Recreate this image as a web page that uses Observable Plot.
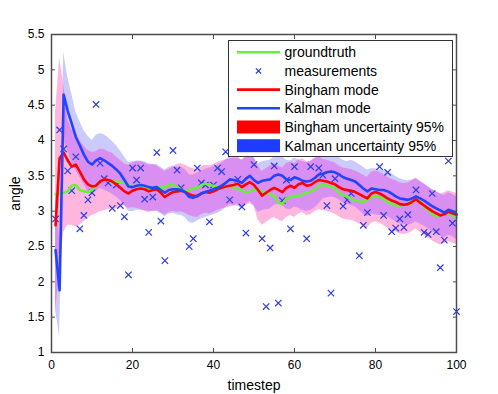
<!DOCTYPE html>
<html><head><meta charset="utf-8">
<script src="https://cdn.jsdelivr.net/npm/d3@7"></script>
<script src="https://cdn.jsdelivr.net/npm/@observablehq/plot@0.6"></script>
<style>
html,body{margin:0;padding:0;background:#fff;}
#wrap{position:relative;width:498px;height:394px;font-family:"Liberation Sans",Arial,sans-serif;}
#legend{position:absolute;left:227.5px;top:39.5px;}
</style></head>
<body><div id="wrap"></div>
<script>
const xTicks = [0, 20, 40, 60, 80, 100];
const yTicks = [1, 1.5, 2, 2.5, 3, 3.5, 4, 4.5, 5, 5.5];
const timestep = d3.range(1, 101);

const groundtruth = [3.24,3.25,3.26,3.28,3.36,3.37,3.30,3.28,3.27,3.30,
3.36,3.42,3.45,3.43,3.42,3.42,3.41,3.40,3.37,3.35,
3.36,3.34,3.33,3.33,3.34,3.35,3.33,3.34,3.37,3.38,
3.34,3.30,3.28,3.30,3.32,3.33,3.37,3.39,3.37,3.36,
3.35,3.36,3.34,3.35,3.33,3.32,3.30,3.26,3.28,3.31,
3.30,3.28,3.26,3.24,3.21,3.12,3.10,3.18,3.20,3.22,
3.21,3.24,3.26,3.28,3.30,3.36,3.37,3.36,3.35,3.32,
3.26,3.22,3.21,3.17,3.15,3.14,3.13,3.16,3.20,3.22,
3.20,3.17,3.13,3.10,3.08,3.08,3.09,3.09,3.12,3.17,
3.13,3.06,3.02,2.96,2.93,2.95,2.98,2.97,2.94,2.91];

const binghamMode = [2.80,3.75,3.83,3.72,3.63,3.66,3.56,3.45,3.38,3.35,
3.36,3.42,3.45,3.44,3.42,3.38,3.33,3.28,3.25,3.29,
3.31,3.32,3.31,3.28,3.30,3.31,3.26,3.20,3.24,3.27,
3.28,3.29,3.27,3.24,3.22,3.21,3.25,3.27,3.26,3.28,
3.31,3.33,3.35,3.36,3.37,3.39,3.34,3.38,3.41,3.37,
3.30,3.22,3.26,3.30,3.33,3.30,3.27,3.33,3.36,3.33,
3.38,3.40,3.36,3.37,3.41,3.44,3.43,3.42,3.40,3.38,
3.34,3.31,3.30,3.29,3.27,3.24,3.21,3.18,3.25,3.27,
3.25,3.22,3.18,3.15,3.13,3.10,3.09,3.10,3.13,3.17,
3.12,3.08,3.04,3.00,2.97,2.94,2.96,2.99,2.97,2.95];

const kalmanMode = [2.45,1.88,4.65,4.42,4.24,4.05,3.93,3.80,3.70,3.66,
3.72,3.75,3.72,3.68,3.64,3.59,3.53,3.44,3.35,3.34,
3.36,3.37,3.36,3.34,3.33,3.34,3.30,3.26,3.30,3.31,
3.31,3.30,3.27,3.20,3.19,3.22,3.25,3.27,3.29,3.31,
3.33,3.36,3.40,3.45,3.44,3.43,3.40,3.46,3.50,3.44,
3.40,3.43,3.44,3.45,3.50,3.52,3.50,3.45,3.44,3.48,
3.46,3.43,3.42,3.43,3.47,3.52,3.53,3.55,3.56,3.55,
3.52,3.48,3.46,3.44,3.42,3.37,3.32,3.28,3.32,3.31,
3.30,3.30,3.28,3.25,3.21,3.18,3.17,3.16,3.18,3.21,
3.18,3.15,3.11,3.07,3.04,3.01,2.98,3.02,3.00,2.96];

const binghamLower = [1.55,2.10,2.70,2.80,2.80,2.78,2.80,2.85,2.90,2.94,
2.96,2.99,3.01,3.02,3.03,3.03,3.06,3.08,3.04,3.05,
3.04,3.02,3.00,2.98,3.00,3.01,2.98,2.95,2.98,3.00,
2.98,2.99,2.97,2.94,2.92,2.91,2.95,2.97,2.96,2.98,
3.01,3.03,3.05,3.06,3.07,3.09,3.04,3.08,3.11,3.07,
2.88,2.80,2.84,2.88,2.91,2.88,2.85,2.91,2.94,2.91,
2.96,2.98,2.94,2.95,2.99,3.02,3.01,3.00,2.98,2.96,
2.92,2.89,2.88,2.87,2.85,2.82,2.79,2.76,2.83,2.85,
2.83,2.80,2.76,2.73,2.71,2.68,2.67,2.68,2.71,2.75,
2.70,2.66,2.62,2.58,2.55,2.52,2.54,2.57,2.55,2.53];

const binghamUpper = [4.40,5.17,4.80,4.30,4.15,4.12,4.00,3.92,3.86,3.83,
3.84,3.88,3.87,3.84,3.82,3.77,3.72,3.67,3.65,3.68,
3.70,3.70,3.68,3.65,3.66,3.64,3.60,3.56,3.59,3.62,
3.66,3.67,3.65,3.62,3.60,3.59,3.63,3.65,3.64,3.66,
3.69,3.71,3.73,3.74,3.75,3.77,3.72,3.76,3.79,3.75,
3.64,3.56,3.60,3.64,3.67,3.64,3.61,3.67,3.70,3.67,
3.72,3.74,3.70,3.71,3.75,3.78,3.73,3.72,3.70,3.68,
3.64,3.61,3.60,3.59,3.57,3.54,3.51,3.48,3.55,3.57,
3.55,3.52,3.48,3.45,3.43,3.40,3.39,3.40,3.43,3.47,
3.42,3.38,3.34,3.30,3.27,3.24,3.26,3.29,3.27,3.25];

const kalmanLower = [1.60,1.22,4.00,3.85,3.70,3.58,3.48,3.38,3.28,3.24,
3.28,3.32,3.30,3.27,3.24,3.20,3.15,3.08,3.00,2.99,
3.01,3.02,3.01,3.00,2.99,3.00,2.96,2.92,2.96,2.97,
2.95,2.94,2.91,2.84,2.83,2.86,2.89,2.91,2.93,2.95,
2.97,3.00,3.04,3.09,3.08,3.07,3.04,3.10,3.14,3.08,
2.98,3.01,3.02,3.03,3.08,3.10,3.08,3.03,3.02,3.06,
3.04,3.01,3.00,3.01,3.05,3.10,3.17,3.19,3.20,3.19,
3.16,3.12,3.10,3.08,3.06,3.01,2.96,2.92,2.96,2.95,
2.94,2.94,2.92,2.89,2.85,2.82,2.81,2.80,2.82,2.85,
2.82,2.79,2.75,2.71,2.68,2.65,2.62,2.66,2.64,2.60];

const kalmanUpper = [3.30,2.60,5.25,4.90,4.66,4.40,4.27,4.14,4.06,4.00,
4.07,4.10,4.08,4.04,3.99,3.93,3.85,3.77,3.69,3.70,
3.71,3.71,3.70,3.67,3.66,3.66,3.62,3.58,3.62,3.64,
3.63,3.62,3.59,3.52,3.51,3.54,3.57,3.59,3.61,3.63,
3.65,3.68,3.72,3.77,3.76,3.75,3.72,3.78,3.82,3.76,
3.67,3.70,3.71,3.72,3.77,3.79,3.77,3.72,3.71,3.75,
3.73,3.70,3.69,3.70,3.74,3.79,3.77,3.79,3.80,3.79,
3.76,3.72,3.70,3.72,3.70,3.66,3.62,3.58,3.60,3.60,
3.59,3.58,3.56,3.53,3.49,3.46,3.44,3.43,3.44,3.46,
3.42,3.39,3.35,3.31,3.28,3.25,3.22,3.26,3.24,3.20];

const measT = [1,2,3,4,5,6,7,8,9,10,11,12,13,14,15,16,17,18,19,20,
21,22,23,24,25,26,27,28,30,31,32,34,35,36,37,38,39,40,41,42,
43,44,46,47,48,50,52,53,54,55,56,57,58,59,60,63,64,66,67,68,
69,70,72,73,74,76,77,78,81,82,83,84,85,86,87,88,90,92,93,94,
95,96,97,98,99,100];
const measV = [2.89,4.15,3.88,3.57,3.29,3.77,2.75,2.94,3.16,3.26,4.51,3.68,3.46,3.40,3.04,3.37,3.08,2.92,2.10,3.61,
3.44,3.61,3.17,2.70,3.20,3.83,2.86,2.30,3.86,3.58,3.33,2.50,2.61,3.61,3.40,3.37,2.85,3.37,3.61,3.56,
3.84,3.16,3.45,3.06,2.69,3.66,2.61,1.65,2.48,3.64,1.70,3.15,3.44,2.75,3.63,2.61,3.63,3.61,3.51,3.08,
1.84,3.46,3.07,3.16,3.25,2.37,2.80,2.98,3.63,2.94,3.55,2.71,2.76,2.89,2.77,2.95,3.30,2.70,2.67,3.25,
2.71,2.20,2.59,3.71,2.83,1.58];

const rows = timestep.map((t, i) => {
  const oL = Math.max(binghamLower[i], kalmanLower[i]);
  const oH = Math.max(oL, Math.min(binghamUpper[i], kalmanUpper[i]));
  return {t, g: groundtruth[i], b: binghamMode[i], k: kalmanMode[i],
    bL: binghamLower[i], bU: binghamUpper[i], kL: kalmanLower[i], kU: kalmanUpper[i], oL, oH};
});
const meas = measT.map((t, i) => ({t, v: measV[i]}));

const C = {green:"#66f03a", red:"#ff0000", blue:"#2443ff", meas:"#2a3bea",
  pink:"#ffb6de", lav:"#cacafb", purple:"#d98ff2", axis:"#4d4d4d"};

const chart = Plot.plot({
  width: 498, height: 394,
  marginLeft: 51, marginRight: 42, marginTop: 34, marginBottom: 42,
  style: {fontFamily: "'Liberation Sans', Arial, sans-serif", fontSize: "12px", background: "#fff", color: "#000"},
  x: {domain: [0, 100]},
  y: {domain: [1, 5.5]},
  marks: [
    Plot.areaY(rows, {x: "t", y1: "kL", y2: "kU", fill: C.lav}),
    Plot.areaY(rows, {x: "t", y1: "bL", y2: "bU", fill: C.pink}),
    Plot.areaY(rows, {x: "t", y1: "oL", y2: "oH", fill: C.purple}),
    Plot.dot(meas, {x: "t", y: "v", symbol: "times", r: 3, stroke: C.meas, strokeWidth: 1.2}),
    Plot.line(rows, {x: "t", y: "g", stroke: C.green, strokeWidth: 2.6}),
    Plot.line(rows, {x: "t", y: "b", stroke: C.red, strokeWidth: 2.6}),
    Plot.line(rows, {x: "t", y: "k", stroke: C.blue, strokeWidth: 2.6}),
    Plot.frame({stroke: C.axis, strokeWidth: 1.5}),
    Plot.axisX(xTicks, {anchor: "bottom", tickSize: -4, tickPadding: 12, stroke: C.axis, fontSize: 12, label: null}),
    Plot.axisX(xTicks, {anchor: "top", tickSize: -4, tickFormat: () => "", stroke: C.axis, label: null}),
    Plot.axisY(yTicks, {anchor: "left", tickSize: -4, tickPadding: 11, stroke: C.axis, fontSize: 12, tickFormat: d => String(d), label: null}),
    Plot.axisY(yTicks, {anchor: "right", tickSize: -4, tickFormat: () => "", stroke: C.axis, label: null}),
    Plot.axisX([], {anchor: "bottom", label: "timestep", labelAnchor: "center", labelOffset: 37, labelArrow: "none", fontSize: 14, tickSize: 0}),
    Plot.axisY([], {anchor: "left", label: "angle", labelAnchor: "center", labelOffset: 41, labelArrow: "none", fontSize: 14, tickSize: 0})
  ]
});
document.getElementById("wrap").appendChild(chart);

// legend
const entries = [
  {label: "groundtruth", kind: "line", color: C.green},
  {label: "measurements", kind: "cross", color: C.meas},
  {label: "Bingham mode", kind: "line", color: C.red},
  {label: "Kalman mode", kind: "line", color: C.blue},
  {label: "Bingham uncertainty 95%", kind: "rect", color: "#ff0000"},
  {label: "Kalman uncertainty 95%", kind: "rect", color: "#1e3cff"}
];
const lw = 225, lh = 117;
const svg = d3.create("svg").attr("id", "legend").attr("width", lw).attr("height", lh)
  .style("font-family", "'Liberation Sans', Arial, sans-serif").style("font-size", "14px");
svg.append("rect").attr("x", 0.5).attr("y", 0.5).attr("width", lw - 1).attr("height", lh - 1)
  .attr("fill", "#fff").attr("stroke", "#333").attr("stroke-width", 1);
entries.forEach((e, i) => {
  const cy = 12.2 + i * 18.7;
  const g = svg.append("g");
  if (e.kind === "line") {
    g.append("line").attr("x1", 9).attr("x2", 52).attr("y1", cy).attr("y2", cy)
      .attr("stroke", e.color).attr("stroke-width", 2.6);
  } else if (e.kind === "cross") {
    const s = 2.6;
    g.append("path").attr("d", `M${30.5 - s},${cy - s}L${30.5 + s},${cy + s}M${30.5 - s},${cy + s}L${30.5 + s},${cy - s}`)
      .attr("stroke", e.color).attr("stroke-width", 1.2);
  } else {
    g.append("rect").attr("x", 9).attr("y", cy - 6.5).attr("width", 43).attr("height", 13).attr("fill", e.color);
  }
  g.append("text").attr("x", 56.5).attr("y", cy).attr("dy", "0.35em").attr("fill", "#000").text(e.label);
});
document.getElementById("wrap").appendChild(svg.node());
</script>
</body></html>
